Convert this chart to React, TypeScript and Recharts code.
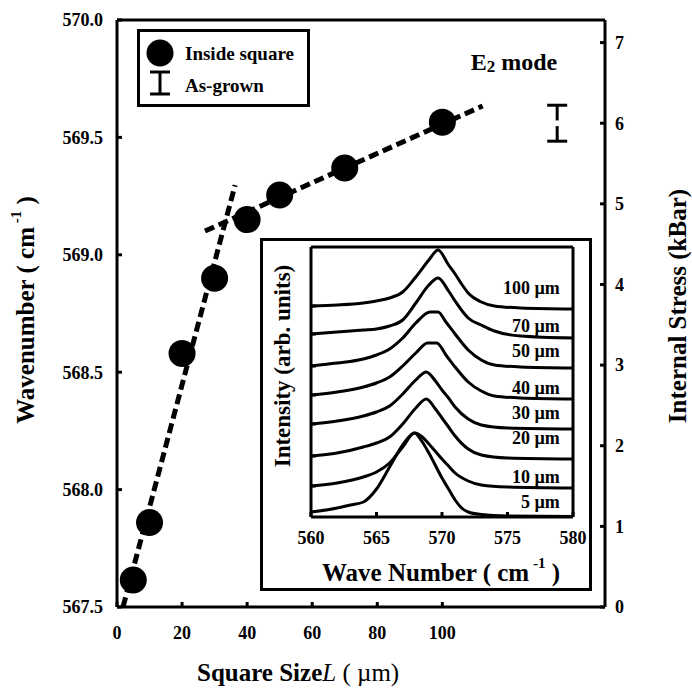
import React from 'react';
import { ComposedChart, LineChart, Line, XAxis, YAxis, ErrorBar, ReferenceDot, Legend } from 'recharts';

// ---------- main chart data ----------
const squareSize = [5, 10, 20, 30, 40, 50, 70, 100];
const peakWavenumber = [567.615, 567.86, 568.58, 568.9, 569.15, 569.255, 569.37, 569.565];
const fitSmallX = [1.85, 36.3];
const fitSmallY = [567.5, 569.297];
const fitLargeX = [27.05, 112.4];
const fitLargeY = [569.101, 569.634];
const asGrownX = [135.3];
const asGrownStress = [6.0];
const asGrownErr = [0.223];
const xTicks = [0, 20, 40, 60, 80, 100];
const wnTicks = [567.5, 568.0, 568.5, 569.0, 569.5, 570.0];
const stressTicks = [0, 1, 2, 3, 4, 5, 6, 7];

// ---------- inset data (wavenumber, intensity in arb. units) ----------
const insetTicks = [560, 565, 570, 575, 580];
const spectrumLabels = ['5 µm', '10 µm', '20 µm', '30 µm', '40 µm', '50 µm', '70 µm', '100 µm'];
const spectrumLabelY = [15, 40, 79, 104, 129, 166, 191, 229];
const spec5 = [[560, 5], [562, 9], [563, 12], [564, 15], [565, 28], [566, 50], [567, 72], [567.9, 84], [568.5, 75], [569, 64], [570, 39], [570.5, 28], [571, 17], [571.5, 9], [572, 5], [573, 2.5], [575, 1], [580, 0.5]];
const spec10 = [[560, 31], [562, 34], [564, 40], [565, 45], [566, 54], [567, 70], [567.9, 84], [568.5, 80], [569, 73], [570, 58], [570.5, 51], [571, 44], [572, 36], [573, 32], [575, 30], [580, 29]];
const spec20 = [[560, 61], [562, 64], [564, 70], [565, 74], [566, 80], [567, 93], [568, 109], [568.8, 118], [569.5, 108], [570, 99], [570.5, 90], [571, 81], [572, 68], [573, 62], [575, 59], [580, 58]];
const spec30 = [[560, 93], [562, 96], [564, 101], [565, 105], [566, 111], [567, 123], [568, 137], [568.8, 145], [569.5, 136], [570, 127], [570.5, 119], [571, 110], [572, 98], [573, 92], [575, 89], [580, 88]];
const spec40 = [[560, 122], [562, 125], [564, 130], [565, 134], [566, 140], [567, 151], [568, 164], [568.9, 174], [569.6, 174], [570.3, 162], [571, 150], [572, 135], [573, 126], [574, 121], [576, 119], [580, 118]];
const spec50 = [[560, 151], [562, 154], [564, 158], [565, 162], [566, 168], [567, 179], [568, 194], [569.1, 205], [569.7, 205], [570.3, 195], [571, 183], [572, 167], [573, 157], [574, 152], [576, 150], [580, 149]];
const spec70 = [[560, 183], [562, 185], [564, 187], [565, 188], [566, 191], [567, 197], [568, 214], [569, 232], [569.7, 239], [570.5, 226], [571, 216], [571.6, 205], [572, 199], [573, 192], [574, 186], [576, 181], [580, 179]];
const spec100 = [[560, 211], [562, 212], [564, 214], [565, 216], [566, 219], [567, 225], [568, 240], [569, 257], [569.7, 267], [570.5, 252], [571, 243], [571.6, 231], [572, 224], [573, 215], [574, 211], [576, 209], [580, 208]];
const spectra = [spec5, spec10, spec20, spec30, spec40, spec50, spec70, spec100];

// ---------- built tables ----------
const pointData = squareSize.map((x, i) => ({ x, y: peakWavenumber[i] }));
const fitSmall = fitSmallX.map((x, i) => ({ x, y: fitSmallY[i] }));
const fitLarge = fitLargeX.map((x, i) => ({ x, y: fitLargeY[i] }));
const asGrown = asGrownX.map((x, i) => ({ x, y: asGrownStress[i], err: asGrownErr[i] }));
const spectraData = spectra.map((s) => s.map(([x, y]) => ({ x, y })));
const insetYTicks = spectra.slice(1).map((s) => s[0][1]);

const FONT = '"Liberation Serif", "Times New Roman", serif';
const txt: any = { fontFamily: FONT, fontWeight: 700, fill: '#000' };
const axisStroke = { stroke: '#000', strokeWidth: 3 };

const renderBigDot = (p: any) => (
  <circle key={`pt-${p.index}`} cx={p.cx} cy={p.cy} r={13.5} fill="#000" />
);

const xTitle = () => (
  <text x={197} y={672} dominantBaseline="central" fontSize={25} style={{ fontFamily: FONT }} fill="#000">
    <tspan fontWeight={700}>Square Size</tspan>
    <tspan fontStyle="italic">L</tspan>
    <tspan> ( µm)</tspan>
  </text>
);

const yTitle = () => (
  <text x={25} y={310} transform="rotate(-90 25 310)" textAnchor="middle" dominantBaseline="central" fontSize={25} style={{ fontFamily: FONT }} fontWeight={700} fill="#000">
    Wavenumber ( cm<tspan dy={-9} fontSize={15}> -1</tspan><tspan dy={9}> )</tspan>
  </text>
);

const y2Title = () => (
  <text x={677} y={306} transform="rotate(-90 677 306)" textAnchor="middle" dominantBaseline="central" fontSize={25} style={{ fontFamily: FONT }} fontWeight={700} fill="#000">
    Internal Stress (kBar)
  </text>
);

const e2Label = (p: any) => {
  const vb = p.viewBox || {};
  const cx = (vb.x || 0) + (vb.width || 0) / 2;
  const cy = (vb.y || 0) + (vb.height || 0) / 2;
  return (
    <text x={cx} y={cy} textAnchor="middle" dominantBaseline="central" fontSize={24} style={{ fontFamily: FONT }} fontWeight={700} fill="#000">
      E<tspan dy={4} fontSize={17}>2</tspan><tspan dy={-4}> mode</tspan>
    </text>
  );
};

const renderLegend = () => (
  <div style={{ width: 173, height: 78, border: '3px solid #000', boxSizing: 'border-box', background: '#fff', position: 'relative' }}>
    <svg width={167} height={72} style={{ position: 'absolute', left: 0, top: 0 }}>
      <circle cx={20} cy={21} r={13.5} fill="#000" />
      <line x1={20} y1={40} x2={20} y2={62} stroke="#000" strokeWidth={3} />
      <line x1={10} y1={40} x2={30} y2={40} stroke="#000" strokeWidth={3} />
      <line x1={10} y1={62} x2={30} y2={62} stroke="#000" strokeWidth={3} />
      <text x={45} y={21} dominantBaseline="central" fontSize={19} style={{ fontFamily: FONT }} fontWeight={700} fill="#000">Inside square</text>
      <text x={45} y={53} dominantBaseline="central" fontSize={19} style={{ fontFamily: FONT }} fontWeight={700} fill="#000">As-grown</text>
    </svg>
  </div>
);

const insetXTitle = () => (
  <text x={181} y={334} textAnchor="middle" dominantBaseline="central" fontSize={25} style={{ fontFamily: FONT }} fontWeight={700} fill="#000">
    Wave Number ( cm<tspan dy={-9} fontSize={15}> -1</tspan><tspan dy={9}> )</tspan>
  </text>
);

const insetYTitle = () => (
  <text x={22} y={128} transform="rotate(-90 22 128)" textAnchor="middle" dominantBaseline="central" fontSize={23} style={{ fontFamily: FONT }} fontWeight={700} fill="#000">
    Intensity (arb. units)
  </text>
);

function Inset() {
  return (
    <div style={{ position: 'absolute', left: 260, top: 238, width: 332, height: 353, background: '#fff' }}>
      <LineChart width={332} height={353} margin={{ top: 8, right: 0, bottom: 0, left: 0 }}>
        <XAxis xAxisId="b" type="number" dataKey="x" domain={[560, 580]} ticks={insetTicks} orientation="bottom" height={74}
          tickSize={-5} tickMargin={19} axisLine={axisStroke} tickLine={axisStroke} tick={{ ...txt, fontSize: 18 }} label={insetXTitle} />
        <XAxis xAxisId="t" type="number" dataKey="x" domain={[560, 580]} ticks={insetTicks} orientation="top" height={1}
          tickSize={-5} tickFormatter={() => ''} axisLine={axisStroke} tickLine={axisStroke} />
        <YAxis yAxisId="l" type="number" dataKey="y" domain={[0, 270]} ticks={insetYTicks} width={51}
          tickSize={-5} tickFormatter={() => ''} axisLine={axisStroke} tickLine={axisStroke} label={insetYTitle} />
        <YAxis yAxisId="r" orientation="right" type="number" dataKey="y" domain={[0, 270]} ticks={[]} width={19}
          axisLine={axisStroke} tickLine={false} tick={false} />
        {spectraData.map((d, i) => (
          <Line key={`s${i}`} xAxisId="b" yAxisId="l" data={d} dataKey="y" type="monotone" stroke="#000" strokeWidth={3}
            dot={false} activeDot={false} isAnimationActive={false} />
        ))}
        {spectrumLabels.map((lab, i) => (
          <ReferenceDot key={`lab${i}`} xAxisId="b" yAxisId="l" x={579.3} y={spectrumLabelY[i]} r={0} fill="none" stroke="none"
            label={{ value: lab, position: 'left', offset: 4, ...txt, fontSize: 18 }} />
        ))}
      </LineChart>
      <div style={{ position: 'absolute', left: 0, top: 0, width: 332, height: 353, border: '3px solid #000', boxSizing: 'border-box', pointerEvents: 'none' }} />
    </div>
  );
}

export default function App() {
  return (
    <div style={{ position: 'absolute', left: 0, top: 0, width: 692, height: 692, background: '#fff' }}>
      <ComposedChart width={692} height={692} margin={{ top: 15, right: 0, bottom: 0, left: 0 }}>
        <XAxis xAxisId="b" type="number" dataKey="x" domain={[0, 150]} ticks={xTicks} orientation="bottom" height={85}
          tickSize={-5} tickMargin={24} axisLine={axisStroke} tickLine={axisStroke} tick={{ ...txt, fontSize: 18 }} label={xTitle} />
        <XAxis xAxisId="t" type="number" dataKey="x" domain={[0, 150]} ticks={xTicks} orientation="top" height={5}
          tickSize={-5} tickFormatter={() => ''} axisLine={axisStroke} tickLine={axisStroke} />
        <YAxis yAxisId="wn" type="number" dataKey="y" domain={[567.5, 570]} ticks={wnTicks} width={117}
          tickSize={-5} tickMargin={19} tickFormatter={(v: number) => v.toFixed(1)} axisLine={axisStroke} tickLine={axisStroke}
          tick={{ ...txt, fontSize: 18 }} label={yTitle} />
        <YAxis yAxisId="st" orientation="right" type="number" dataKey="y" domain={[0, 7.28]} ticks={stressTicks} width={87}
          tickSize={-5} tickMargin={15} axisLine={axisStroke} tickLine={axisStroke} tick={{ ...txt, fontSize: 18 }} label={y2Title} />
        <Legend layout="horizontal" verticalAlign="middle" align="center" content={renderLegend}
          wrapperStyle={{ left: 137, top: 29, width: 173, height: 78 }} />
        <Line name="fit-small" xAxisId="b" yAxisId="wn" data={fitSmall} dataKey="y" type="linear" stroke="#000" strokeWidth={5}
          strokeDasharray="10 5" dot={false} activeDot={false} isAnimationActive={false} />
        <Line name="fit-large" xAxisId="b" yAxisId="wn" data={fitLarge} dataKey="y" type="linear" stroke="#000" strokeWidth={5}
          strokeDasharray="10 5" dot={false} activeDot={false} isAnimationActive={false} />
        <Line name="Inside square" xAxisId="b" yAxisId="wn" data={pointData} dataKey="y" stroke="none" dot={renderBigDot}
          activeDot={false} isAnimationActive={false} />
        <Line name="As-grown" xAxisId="b" yAxisId="st" data={asGrown} dataKey="y" stroke="none" dot={false} activeDot={false}
          isAnimationActive={false}>
          <ErrorBar dataKey="err" direction="y" width={10} strokeWidth={3} stroke="#000" />
        </Line>
        <ReferenceDot xAxisId="b" yAxisId="wn" x={122} y={569.82} r={0} fill="none" stroke="none" label={e2Label} />
      </ComposedChart>
      <Inset />
    </div>
  );
}
